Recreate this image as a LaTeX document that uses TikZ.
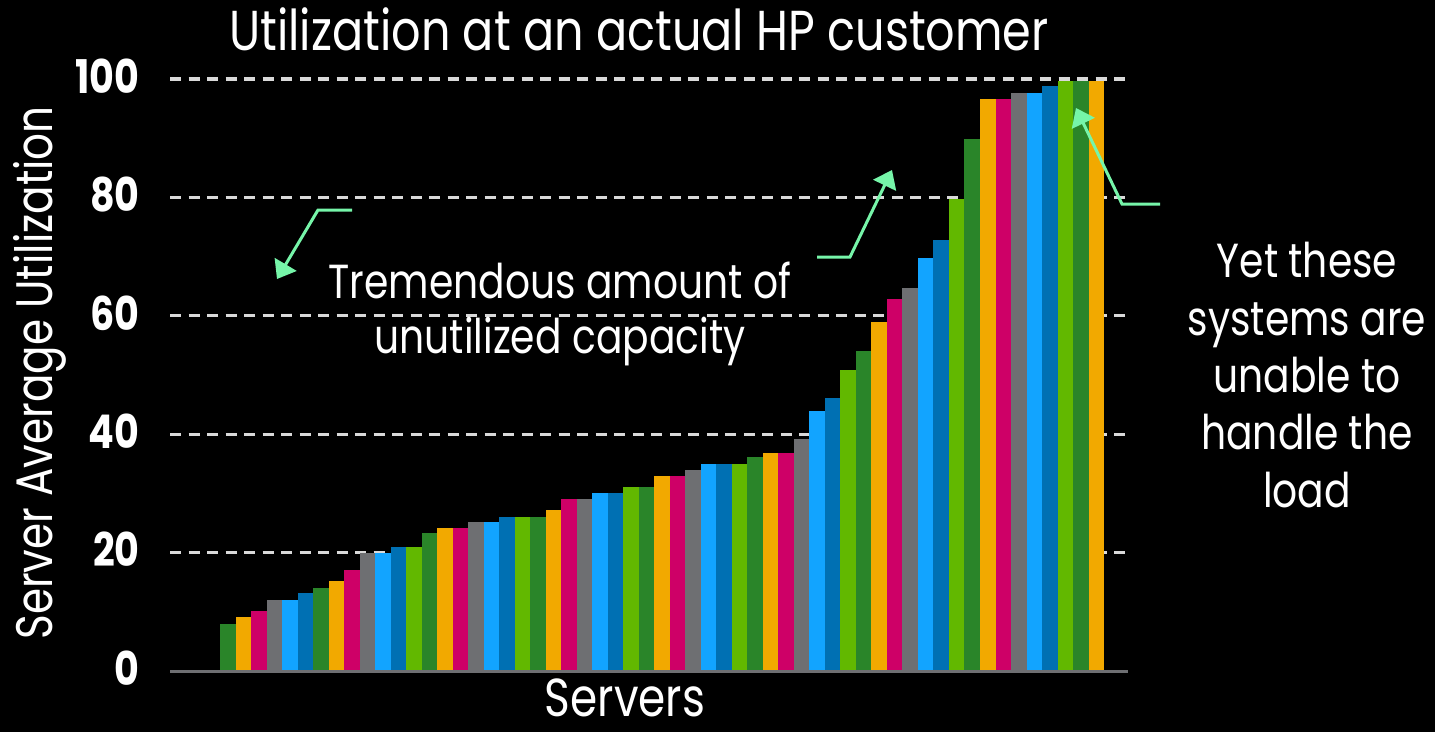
\documentclass[tikz,border=0pt]{standalone}
\usepackage{fontspec}
\setmainfont{Poppins}[FakeStretch=0.82]
\usetikzlibrary{arrows.meta}
\definecolor{srvdg}{HTML}{2A8529}
\definecolor{srvor}{HTML}{F2A900}
\definecolor{srvmg}{HTML}{CE0067}
\definecolor{srvgr}{HTML}{6E6F72}
\definecolor{srvlb}{HTML}{12A4FF}
\definecolor{srvbl}{HTML}{0070B3}
\definecolor{srvlg}{HTML}{62B800}
\definecolor{callout}{HTML}{76F5A9}
\definecolor{gridgray}{HTML}{D9D9D9}

\begin{document}
\begin{tikzpicture}[x=0.01cm,y=0.01cm,
    gridline/.style={gridgray,line width=0.032cm,dash pattern=on 0.11cm off 0.075cm},
    callarrow/.style={callout,line width=0.03cm,-{Triangle[length=0.17cm,width=0.25cm]}},
    bigtext/.style={text=white,font=\fontsize{16}{18}\selectfont},
    notetext/.style={text=white,align=center,font=\fontsize{13.6}{15.8}\selectfont},
    ticklabel/.style={text=white,anchor=east,font=\fontsize{13.2}{16}\selectfont\bfseries}]
        \useasboundingbox (0,0) rectangle (1435,732);
        \fill[black] (0,0) rectangle (1435,732);
        \foreach \v in {20,40,60,80,100} \draw[gridline] (170,{61+\v*5.92}) -- (1128,{61+\v*5.92});
        \foreach \v/\c [count=\i] in {8/srvdg,9.2/srvor,10.1/srvmg,12/srvgr,12/srvlb,13.2/srvbl,
            14/srvdg,15.2/srvor,17/srvmg,20/srvgr,20/srvlb,21/srvbl,21/srvlg,
            23.3/srvdg,24.2/srvor,24.2/srvmg,25.2/srvgr,25.2/srvlb,26/srvbl,26/srvlg,
            26/srvdg,27.2/srvor,29/srvmg,29/srvgr,30/srvlb,30/srvbl,31/srvlg,
            31/srvdg,33/srvor,33/srvmg,34/srvgr,35/srvlb,35/srvbl,35/srvlg,
            36.1/srvdg,36.8/srvor,36.8/srvmg,39.2/srvgr,44/srvlb,46.2/srvbl,50.9/srvlg,
            54/srvdg,59/srvor,62.9/srvmg,64.7/srvgr,69.8/srvlb,72.8/srvbl,79.7/srvlg,
            89.9/srvdg,96.6/srvor,96.6/srvmg,97.7/srvgr,97.7/srvlb,98.8/srvbl,99.7/srvlg,
            99.7/srvdg,99.7/srvor}
            \fill[\c] ({220+(\i-1)*15.51},61) rectangle ({220+\i*15.51},{61+\v*5.92});
        \draw[srvgr,line width=0.03cm] (170,61) -- (1128,61);
        \foreach \v in {0,20,40,60,80,100} \node[ticklabel] (tick\v) at (152,{64+\v*5.92}) {\v};
        \node[bigtext,anchor=base] (title) at (639,682) {Utilization at an actual HP customer};
        \node[bigtext,anchor=base,rotate=90,font=\fontsize{14.6}{17}\selectfont] (ytitle) at (52,359) {Server Average Utilization};
        \node[bigtext,anchor=base,inner sep=0pt,font=\fontsize{15.2}{17}\selectfont] (xtitle) at (625,16) {Servers};
        \node[notetext] (unused) at (560,418) {Tremendous amount of\\unutilized capacity};
        \node[notetext,font=\fontsize{13.6}{16.3}\selectfont] (overload) at (1307,357) {Yet these\\systems are\\unable to\\handle the\\load};
        \coordinate (a1start) at (352,522);
        \coordinate (a1bend) at (318,522);
        \coordinate (a1tip) at (277,453);
        \coordinate (a2start) at (817,475);
        \coordinate (a2bend) at (850,475);
        \coordinate (a2tip) at (892,562);
        \coordinate (a3start) at (1160,528);
        \coordinate (a3bend) at (1122,528);
        \coordinate (a3tip) at (1076,624);
        \draw[callarrow] (a1start) -- (a1bend) -- (a1tip);
        \draw[callarrow] (a2start) -- (a2bend) -- (a2tip);
        \draw[callarrow] (a3start) -- (a3bend) -- (a3tip);
    \end{tikzpicture}
\end{document}
